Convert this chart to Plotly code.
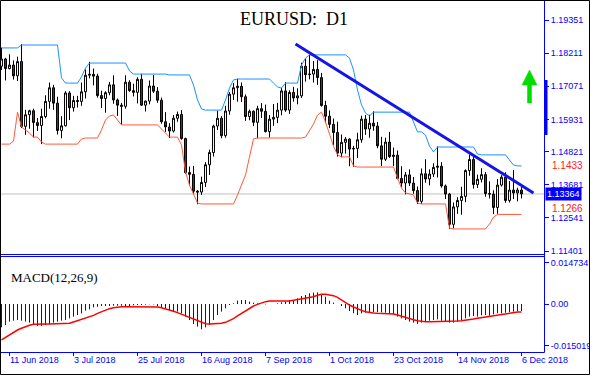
import plotly.graph_objects as go
import pandas as pd

# ---------------- data ----------------
dates = [d.strftime("%-d %b %Y") for d in pd.bdate_range("2018-06-07", "2018-12-06")]

open_ = [1.1776, 1.1801, 1.1768, 1.1780, 1.1743, 1.1792, 1.1569, 1.1609, 1.1623, 1.1582,
         1.1572, 1.1603, 1.1655, 1.1702, 1.1649, 1.1555, 1.1571, 1.1684, 1.1633, 1.1658,
         1.1655, 1.1688, 1.1745, 1.1748, 1.1742, 1.1675, 1.1665, 1.1685, 1.1712, 1.1660,
         1.1642, 1.1638, 1.1721, 1.1692, 1.1686, 1.1731, 1.1642, 1.1656, 1.1708, 1.1690,
         1.1659, 1.1585, 1.1567, 1.1553, 1.1597, 1.1610, 1.1527, 1.1410, 1.1404, 1.1346,
         1.1343, 1.1376, 1.1437, 1.1479, 1.1570, 1.1597, 1.1537, 1.1622, 1.1680, 1.1702,
         1.1707, 1.1671, 1.1603, 1.1621, 1.1583, 1.1630, 1.1621, 1.1551, 1.1594, 1.1600,
         1.1625, 1.1691, 1.1625, 1.1686, 1.1667, 1.1674, 1.1776, 1.1747, 1.1749, 1.1765,
         1.1737, 1.1641, 1.1604, 1.1576, 1.1548, 1.1477, 1.1514, 1.1525, 1.1491, 1.1493,
         1.1523, 1.1594, 1.1560, 1.1580, 1.1570, 1.1502, 1.1456, 1.1515, 1.1465, 1.1470,
         1.1390, 1.1374, 1.1402, 1.1374, 1.1348, 1.1311, 1.1406, 1.1388, 1.1405, 1.1428,
         1.1432, 1.1364, 1.1336, 1.1232, 1.1292, 1.1314, 1.1328, 1.1417, 1.1455, 1.1369,
         1.1387, 1.1403, 1.1338, 1.1336, 1.1290, 1.1367, 1.1394, 1.1314, 1.1350, 1.1340,
         1.1350]
high = [1.1840, 1.1805, 1.1817, 1.1796, 1.1809, 1.1852, 1.1626, 1.1626, 1.1630, 1.1598,
        1.1630, 1.1676, 1.1720, 1.1712, 1.1671, 1.1604, 1.1690, 1.1690, 1.1674, 1.1674,
        1.1720, 1.1765, 1.1791, 1.1768, 1.1750, 1.1692, 1.1690, 1.1722, 1.1745, 1.1665,
        1.1650, 1.1745, 1.1728, 1.1716, 1.1738, 1.1750, 1.1658, 1.1727, 1.1746, 1.1704,
        1.1668, 1.1618, 1.1580, 1.1608, 1.1620, 1.1625, 1.1530, 1.1431, 1.1433, 1.1350,
        1.1396, 1.1446, 1.1489, 1.1575, 1.1623, 1.1604, 1.1640, 1.1687, 1.1718, 1.1733,
        1.1720, 1.1679, 1.1627, 1.1624, 1.1640, 1.1649, 1.1644, 1.1608, 1.1646, 1.1650,
        1.1701, 1.1721, 1.1693, 1.1705, 1.1700, 1.1788, 1.1803, 1.1815, 1.1794, 1.1797,
        1.1753, 1.1657, 1.1624, 1.1596, 1.1585, 1.1541, 1.1532, 1.1528, 1.1502, 1.1547,
        1.1606, 1.1608, 1.1609, 1.1621, 1.1584, 1.1533, 1.1530, 1.1550, 1.1496, 1.1486,
        1.1432, 1.1412, 1.1421, 1.1395, 1.1362, 1.1424, 1.1456, 1.1421, 1.1442, 1.1500,
        1.1446, 1.1369, 1.1340, 1.1307, 1.1325, 1.1361, 1.1421, 1.1472, 1.1466, 1.1403,
        1.1425, 1.1412, 1.1380, 1.1349, 1.1388, 1.1401, 1.1411, 1.1381, 1.1419, 1.1358,
        1.1370]
low = [1.1763, 1.1727, 1.1765, 1.1730, 1.1725, 1.1563, 1.1540, 1.1561, 1.1531, 1.1553,
       1.1508, 1.1597, 1.1630, 1.1626, 1.1541, 1.1528, 1.1569, 1.1591, 1.1620, 1.1634,
       1.1640, 1.1665, 1.1734, 1.1710, 1.1668, 1.1632, 1.1616, 1.1676, 1.1647, 1.1605,
       1.1575, 1.1630, 1.1688, 1.1672, 1.1648, 1.1640, 1.1620, 1.1645, 1.1684, 1.1650,
       1.1578, 1.1550, 1.1529, 1.1548, 1.1585, 1.1523, 1.1405, 1.1365, 1.1335, 1.1301,
       1.1333, 1.1360, 1.1402, 1.1465, 1.1556, 1.1528, 1.1530, 1.1609, 1.1660, 1.1654,
       1.1653, 1.1588, 1.1590, 1.1570, 1.1528, 1.1598, 1.1548, 1.1530, 1.1571, 1.1580,
       1.1607, 1.1619, 1.1612, 1.1654, 1.1645, 1.1667, 1.1723, 1.1731, 1.1720, 1.1712,
       1.1637, 1.1580, 1.1563, 1.1504, 1.1465, 1.1463, 1.1475, 1.1432, 1.1430, 1.1460,
       1.1513, 1.1540, 1.1530, 1.1554, 1.1494, 1.1432, 1.1450, 1.1460, 1.1432, 1.1387,
       1.1359, 1.1335, 1.1364, 1.1337, 1.1302, 1.1302, 1.1375, 1.1366, 1.1395, 1.1393,
       1.1358, 1.1319, 1.1216, 1.1218, 1.1268, 1.1265, 1.1308, 1.1399, 1.1355, 1.1357,
       1.1376, 1.1327, 1.1321, 1.1267, 1.1268, 1.1362, 1.1306, 1.1307, 1.1319, 1.1311,
       1.1321]
close = [1.1801, 1.1768, 1.1780, 1.1743, 1.1792, 1.1569, 1.1609, 1.1623, 1.1582, 1.1572,
         1.1603, 1.1655, 1.1702, 1.1649, 1.1555, 1.1571, 1.1684, 1.1633, 1.1658, 1.1655,
         1.1688, 1.1745, 1.1748, 1.1742, 1.1675, 1.1665, 1.1685, 1.1712, 1.1660, 1.1642,
         1.1638, 1.1721, 1.1692, 1.1686, 1.1731, 1.1642, 1.1656, 1.1708, 1.1690, 1.1659,
         1.1585, 1.1567, 1.1553, 1.1597, 1.1610, 1.1527, 1.1410, 1.1404, 1.1346, 1.1343,
         1.1376, 1.1437, 1.1479, 1.1570, 1.1597, 1.1537, 1.1622, 1.1680, 1.1702, 1.1707,
         1.1671, 1.1603, 1.1621, 1.1583, 1.1630, 1.1621, 1.1551, 1.1594, 1.1600, 1.1625,
         1.1691, 1.1625, 1.1686, 1.1667, 1.1674, 1.1776, 1.1747, 1.1749, 1.1765, 1.1737,
         1.1641, 1.1604, 1.1576, 1.1548, 1.1477, 1.1514, 1.1525, 1.1491, 1.1493, 1.1523,
         1.1594, 1.1560, 1.1580, 1.1570, 1.1502, 1.1456, 1.1515, 1.1465, 1.1470, 1.1390,
         1.1374, 1.1402, 1.1374, 1.1348, 1.1311, 1.1406, 1.1388, 1.1405, 1.1428, 1.1432,
         1.1364, 1.1336, 1.1232, 1.1292, 1.1314, 1.1328, 1.1417, 1.1455, 1.1369, 1.1387,
         1.1403, 1.1338, 1.1336, 1.1290, 1.1367, 1.1394, 1.1314, 1.1350, 1.1340, 1.1350,
         1.13364]

channel_upper = [1.1839, 1.1839, 1.1839, 1.1839, 1.1839, 1.1849, 1.1849, 1.1849, 1.1849, 1.1849,
                 1.1849, 1.1849, 1.1849, 1.1849, 1.1849, 1.1736, 1.1718, 1.1718, 1.1718, 1.1718,
                 1.1739, 1.1770, 1.1787, 1.1787, 1.1787, 1.1787, 1.1787, 1.1787, 1.1787, 1.1787,
                 1.1787, 1.1787, 1.1760, 1.1749, 1.1749, 1.1749, 1.1749, 1.1749, 1.1749, 1.1749,
                 1.1749, 1.1749, 1.1746, 1.1746, 1.1746, 1.1746, 1.1746, 1.1746, 1.1711, 1.1660,
                 1.1629, 1.1625, 1.1625, 1.1625, 1.1625, 1.1625, 1.1660, 1.1701, 1.1729, 1.1732,
                 1.1732, 1.1732, 1.1732, 1.1732, 1.1732, 1.1732, 1.1732, 1.1732, 1.1718, 1.1705,
                 1.1701, 1.1718, 1.1718, 1.1718, 1.1718, 1.1780, 1.1804, 1.1815, 1.1815, 1.1815,
                 1.1815, 1.1815, 1.1815, 1.1815, 1.1815, 1.1815, 1.1815, 1.1804, 1.1763, 1.1694,
                 1.1643, 1.1615, 1.1605, 1.1618, 1.1618, 1.1618, 1.1618, 1.1618, 1.1618, 1.1618,
                 1.1618, 1.1618, 1.1618, 1.1584, 1.1550, 1.1550, 1.1539, 1.1501, 1.1481, 1.1498,
                 1.1498, 1.1498, 1.1498, 1.1498, 1.1498, 1.1498, 1.1498, 1.1498, 1.1498, 1.1474,
                 1.1471, 1.1471, 1.1471, 1.1471, 1.1471, 1.1471, 1.1471, 1.1453, 1.1436, 1.1433,
                 1.1433]
channel_lower = [1.1508, 1.1508, 1.1508, 1.1518, 1.1618, 1.1567, 1.1557, 1.1546, 1.1532, 1.1532,
                 1.1515, 1.1508, 1.1508, 1.1508, 1.1508, 1.1508, 1.1508, 1.1508, 1.1508, 1.1508,
                 1.1526, 1.1529, 1.1529, 1.1529, 1.1529, 1.1557, 1.1591, 1.1605, 1.1608, 1.1591,
                 1.1574, 1.1574, 1.1574, 1.1574, 1.1574, 1.1574, 1.1574, 1.1574, 1.1574, 1.1574,
                 1.1560, 1.1546, 1.1532, 1.1532, 1.1532, 1.1505, 1.1412, 1.1367, 1.1336, 1.1305,
                 1.1302, 1.1302, 1.1302, 1.1302, 1.1302, 1.1302, 1.1302, 1.1302, 1.1302, 1.1333,
                 1.1367, 1.1402, 1.1464, 1.1526, 1.1529, 1.1529, 1.1529, 1.1529, 1.1529, 1.1529,
                 1.1529, 1.1529, 1.1529, 1.1529, 1.1529, 1.1529, 1.1532, 1.1557, 1.1577, 1.1608,
                 1.1618, 1.1584, 1.1546, 1.1501, 1.1471, 1.1464, 1.1464, 1.1464, 1.1433, 1.1429,
                 1.1429, 1.1429, 1.1429, 1.1429, 1.1429, 1.1429, 1.1429, 1.1429, 1.1429, 1.1391,
                 1.1357, 1.1340, 1.1336, 1.1333, 1.1305, 1.1302, 1.1302, 1.1302, 1.1302, 1.1302,
                 1.1302, 1.1302, 1.1219, 1.1216, 1.1216, 1.1216, 1.1216, 1.1216, 1.1216, 1.1216,
                 1.1216, 1.1216, 1.1233, 1.1257, 1.1266, 1.1266, 1.1266, 1.1266, 1.1266, 1.1266,
                 1.1266]

macd_hist = [-0.00835, -0.00752, -0.00632, -0.00597, -0.00573, -0.00597, -0.00632, -0.00668, -0.00716, -0.00787,
             -0.00787, -0.00752, -0.00716, -0.00668, -0.00632, -0.00597, -0.00573, -0.00513, -0.00453, -0.00394,
             -0.00334, -0.00239, -0.00191, -0.00119, -0.00095, -0.00072, -0.00072, -0.00072, -0.00060, -0.00060,
             -0.00060, -0.00072, -0.00072, -0.00048, -0.00036, -0.00036, -0.00024, -0.00012, -0.00012, -0.00072,
             -0.00119, -0.00155, -0.00215, -0.00274, -0.00274, -0.00334, -0.00453, -0.00573, -0.00716, -0.00811,
             -0.00907, -0.00835, -0.00752, -0.00573, -0.00394, -0.00274, -0.00155, -0.00036, 0.00024, 0.00119,
             0.00143, 0.00143, 0.00084, 0.00048, 0.00024, 0.00005, -0.00012, 0.00005, 0.00005, 0.00024,
             0.00060, 0.00084, 0.00143, 0.00143, 0.00203, 0.00286, 0.00322, 0.00382, 0.00406, 0.00418,
             0.00346, 0.00262, 0.00119, 0.00048, -0.00005, -0.00072, -0.00155, -0.00251, -0.00334, -0.00394,
             -0.00334, -0.00310, -0.00286, -0.00286, -0.00286, -0.00298, -0.00310, -0.00334, -0.00370, -0.00453,
             -0.00513, -0.00573, -0.00632, -0.00668, -0.00716, -0.00668, -0.00632, -0.00597, -0.00573, -0.00549,
             -0.00597, -0.00632, -0.00668, -0.00668, -0.00632, -0.00573, -0.00513, -0.00453, -0.00429, -0.00453,
             -0.00406, -0.00394, -0.00418, -0.00370, -0.00334, -0.00334, -0.00310, -0.00286, -0.00274, -0.00262,
             -0.00251]
macd_signal = [-0.01288, -0.01193, -0.01109, -0.01026, -0.00931, -0.00871, -0.00811, -0.00764, -0.00728, -0.00716,
               -0.00716, -0.00716, -0.00716, -0.00716, -0.00716, -0.00716, -0.00716, -0.00692, -0.00644, -0.00597,
               -0.00549, -0.00501, -0.00453, -0.00406, -0.00334, -0.00274, -0.00215, -0.00167, -0.00131, -0.00107,
               -0.00095, -0.00095, -0.00095, -0.00095, -0.00095, -0.00095, -0.00095, -0.00095, -0.00095, -0.00107,
               -0.00131, -0.00167, -0.00215, -0.00262, -0.00310, -0.00370, -0.00429, -0.00489, -0.00549, -0.00608,
               -0.00668, -0.00704, -0.00716, -0.00716, -0.00716, -0.00692, -0.00656, -0.00597, -0.00525, -0.00429,
               -0.00334, -0.00239, -0.00155, -0.00072, -0.00012, 0.00048, 0.00084, 0.00107, 0.00107, 0.00095,
               0.00084, 0.00084, 0.00107, 0.00131, 0.00155, 0.00167, 0.00191, 0.00227, 0.00262, 0.00310,
               0.00346, 0.00346, 0.00334, 0.00298, 0.00239, 0.00143, 0.00048, -0.00036, -0.00107, -0.00179,
               -0.00227, -0.00274, -0.00310, -0.00322, -0.00334, -0.00334, -0.00334, -0.00334, -0.00358, -0.00394,
               -0.00441, -0.00489, -0.00525, -0.00561, -0.00597, -0.00620, -0.00632, -0.00632, -0.00632, -0.00632,
               -0.00632, -0.00632, -0.00632, -0.00620, -0.00608, -0.00597, -0.00585, -0.00561, -0.00537, -0.00513,
               -0.00489, -0.00453, -0.00429, -0.00406, -0.00382, -0.00358, -0.00334, -0.00310, -0.00298, -0.00286,
               -0.00286]

trend_x = [73.5, 133.0]
trend_y = [1.18525, 1.13397]

date_tick_labels = ["11 Jun 2018", "3 Jul 2018", "25 Jul 2018", "16 Aug 2018", "7 Sep 2018",
                    "1 Oct 2018", "23 Oct 2018", "14 Nov 2018", "6 Dec 2018"]
price_ticks = [1.19351, 1.18211, 1.17071, 1.15931, 1.14821, 1.13681, 1.12541, 1.11401]
price_tick_text = ["1.19351", "1.18211", "1.17071", "1.15931", "1.14821", "1.13681", "1.12541", "1.11401"]
macd_ticks = [0.014734, 0.0, -0.015019]
macd_tick_text = ["0.014734", "0.00", "-0.015019"]

# ---------------- layout helpers ----------------
W, H = 590, 375
def fx(p):
    return p / W
def fy(p):
    return 1 - p / H

idx = list(range(len(dates)))
tickvals = [dates.index(t) for t in date_tick_labels]
BLUE = "#0000FF"
FONT = "Liberation Sans, Arial, sans-serif"

fig = go.Figure()

fig.add_trace(go.Candlestick(
    x=idx, open=open_, high=high, low=low, close=close,
    increasing=dict(line=dict(color="black", width=1), fillcolor="white"),
    decreasing=dict(line=dict(color="black", width=1), fillcolor="#E00000"),
    whiskerwidth=0, xaxis="x", yaxis="y", hoverinfo="skip"))
fig.add_trace(go.Scatter(x=idx, y=channel_upper, mode="lines",
                         line=dict(color="#1E90FF", width=1), xaxis="x", yaxis="y"))
fig.add_trace(go.Scatter(x=idx, y=channel_lower, mode="lines",
                         line=dict(color="#FF5A3A", width=1), xaxis="x", yaxis="y"))
fig.add_trace(go.Scatter(x=trend_x, y=trend_y, mode="lines",
                         line=dict(color="#1414E6", width=3), xaxis="x", yaxis="y"))

# MACD histogram drawn as 1-px vertical sticks from zero
hx, hy = [], []
for i, v in zip(idx, macd_hist):
    hx += [i, i, None]
    hy += [0, v, None]
fig.add_trace(go.Scatter(x=hx, y=hy, mode="lines", line=dict(color=BLUE, width=1),
                         xaxis="x2", yaxis="y2"))
fig.add_trace(go.Scatter(x=idx, y=macd_signal, mode="lines",
                         line=dict(color="#FF0000", width=1.5), xaxis="x2", yaxis="y2"))

xdom = [0, fx(544)]
xr = [-0.375, 135.625]
fig.update_layout(
    width=W, height=H, margin=dict(l=0, r=0, t=0, b=0, autoexpand=False),
    paper_bgcolor="white", plot_bgcolor="white", showlegend=False, hovermode=False,
    xaxis=dict(domain=xdom, range=xr, showgrid=False, zeroline=False, showticklabels=False,
               showline=False, ticks="", rangeslider=dict(visible=False), anchor="y",
               automargin=False),
    yaxis=dict(domain=[fy(254), fy(1)], range=[1.11298, 1.20005], side="right", anchor="x",
               tickvals=price_ticks, ticktext=price_tick_text, ticks="outside", ticklen=4,
               tickcolor=BLUE, tickfont=dict(family=FONT, size=9, color=BLUE),
               showgrid=False, zeroline=False, showline=False, automargin=False),
    xaxis2=dict(domain=xdom, range=xr, anchor="y2", tickvals=tickvals, ticktext=date_tick_labels,
                ticks="outside", ticklen=4, tickcolor=BLUE, ticklabelposition="outside right",
                tickfont=dict(family=FONT, size=9, color=BLUE), showgrid=False, zeroline=False,
                showline=False, ticklabeloverflow="allow", automargin=False),
    yaxis2=dict(domain=[fy(351), fy(257)], range=[-0.01683, 0.01683], side="right", anchor="x2",
                tickvals=macd_ticks, ticktext=macd_tick_text, ticks="outside", ticklen=4,
                tickcolor=BLUE, tickfont=dict(family=FONT, size=9, color=BLUE),
                showgrid=False, zeroline=False, showline=False, ticklabeloverflow="allow",
                automargin=False),
)

shapes = []
# current price line
shapes.append(dict(type="line", xref="x domain", yref="y", x0=0, x1=1, y0=close[-1], y1=close[-1],
                   line=dict(color="#C0C0C0", width=1), layer="below"))
# panel borders
for yy in (254.5, 256.5, 352.5):
    shapes.append(dict(type="line", xref="paper", yref="paper", x0=fx(0), x1=fx(544.5),
                       y0=fy(yy), y1=fy(yy), line=dict(color=BLUE, width=1)))
shapes.append(dict(type="line", xref="paper", yref="paper", x0=fx(544.5), x1=fx(544.5),
                   y0=fy(0), y1=fy(352.5), line=dict(color=BLUE, width=1)))
shapes.append(dict(type="rect", xref="paper", yref="paper", x0=fx(544), x1=fx(547.5),
                   y0=fy(135), y1=fy(80), line=dict(width=0), fillcolor=BLUE))
# outer frame
shapes.append(dict(type="rect", xref="paper", yref="paper", x0=fx(0.5), x1=fx(589.5),
                   y0=fy(374.5), y1=fy(0.5), line=dict(color="black", width=1)))
# green arrow
pts = [(529.5, 70), (537, 85), (531.5, 85), (531.5, 103), (527.5, 103), (527.5, 85), (522, 85)]
path = "M " + " L ".join(f"{fx(a):.5f},{fy(b):.5f}" for a, b in pts) + " Z"
shapes.append(dict(type="path", xref="paper", yref="paper", path=path,
                   fillcolor="#00DD00", line=dict(color="#00DD00", width=0.5)))
fig.update_layout(shapes=shapes)

ann = []
ann.append(dict(text="EURUSD:\u00a0\u00a0D1", xref="paper", yref="paper", x=fx(294), y=fy(18.5),
                xanchor="center", yanchor="middle", showarrow=False,
                font=dict(family="Liberation Serif, Times New Roman, serif", size=18, color="black")))
ann.append(dict(text="MACD(12,26,9)", xref="paper", yref="paper", x=fx(9), y=fy(277),
                xanchor="left", yanchor="middle", showarrow=False,
                font=dict(family="Liberation Serif, Times New Roman, serif", size=13, color="black")))
ann.append(dict(text=f"{channel_upper[-1]:.4f}", xref="paper", yref="y", x=fx(550), y=channel_upper[-1],
                xanchor="left", yanchor="middle", showarrow=False,
                font=dict(family=FONT, size=10, color="#FF2020")))
ann.append(dict(text=f"{channel_lower[-1]:.4f}", xref="paper", yref="y", x=fx(550), y=channel_lower[-1],
                yshift=6, xanchor="left", yanchor="middle", showarrow=False,
                font=dict(family=FONT, size=10, color="#FF2020")))
ann.append(dict(text=f"{close[-1]:.5f}", xref="paper", yref="y", x=fx(545), y=close[-1],
                xanchor="left", yanchor="middle", showarrow=False, bgcolor=BLUE, borderpad=1,
                font=dict(family=FONT, size=9, color="white")))
fig.update_layout(annotations=ann)

fig.write_html("out.html", config={"displayModeBar": False},
               post_script="document.body.style.margin='0';document.body.style.overflow='hidden';")
